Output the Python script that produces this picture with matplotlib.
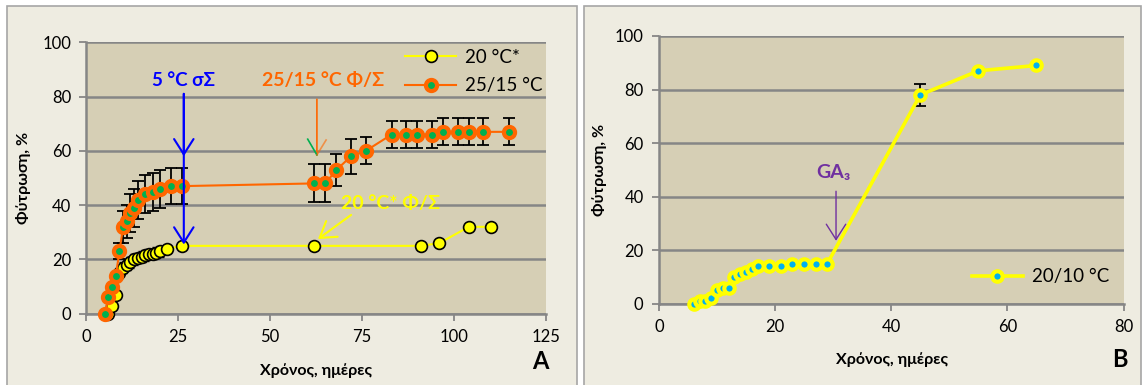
import matplotlib
matplotlib.use('Agg')
import matplotlib.pyplot as plt
from matplotlib.patches import Rectangle

plt.rcParams['font.family'] = ['Lato', 'Noto Sans', 'DejaVu Sans']

# Panel A: 20 °C*
days_20 = [6, 7, 8, 9, 10, 11, 12, 13, 14, 15, 16, 17, 18, 19, 20, 22, 26, 62, 91, 96, 104, 110]
germ_20 = [0, 3, 7, 15, 17, 18, 19, 20, 20.5, 21, 21.5, 22, 22, 22.5, 23, 24, 25, 25, 25, 26, 32, 32]
err_20 = [0, 0, 0, 2, 2, 2, 2, 2, 2, 2, 2, 2, 2, 2, 2, 0, 0, 0, 0, 0, 0, 0]

# Panel A: 25/15 °C
days_2515 = [5, 6, 7, 8, 9, 10, 11, 12, 13, 14, 16, 18, 20, 23, 26, 62, 65, 68, 72, 76,
             83, 87, 90, 94, 97, 101, 104, 108, 115]
germ_2515 = [0, 6, 10, 14, 23, 32, 34, 37, 39, 42, 44, 45, 46, 47, 47, 48, 48, 53, 58, 60,
             66, 66, 66, 66, 67, 67, 67, 67, 67]
err_2515 = [0, 0, 0, 0, 3, 6, 6, 7, 7, 7, 7, 7, 7, 6.5, 6.5, 7, 7, 6, 6.5, 5,
            5, 5, 5, 5, 5, 5, 5, 5, 5]

# Panel B: 20/10 °C
days_2010 = [6, 7, 8, 9, 10, 11, 12, 13, 14, 15, 16, 17, 19, 21, 23, 25, 27, 29, 45, 55, 65]
germ_2010 = [0, 1, 1, 2, 5, 6, 6, 10, 11, 12, 13, 14, 14, 14, 15, 15, 15, 15, 78, 87, 89]
err_2010 = [0, 0, 0, 0, 0, 0, 0, 0, 0, 0, 0, 0, 0, 0, 0, 0, 0, 0, 4, 0, 0]

PANEL_BG = '#EEECE1'
PLOT_BG = '#D6CFB5'
GRID = '#868686'
ORANGE = '#FF6600'
GREEN = '#00B050'
YELLOW = '#FFFF00'
BLUE = '#0000FF'
PURPLE = '#7030A0'


def style(ax, xmax, xstep):
    ax.set_facecolor(PLOT_BG)
    ax.set_xlim(0, xmax)
    ax.set_ylim(0, 100)
    ax.set_xticks(range(0, xmax + 1, xstep))
    ax.set_yticks(range(0, 101, 20))
    ax.grid(axis='y', color=GRID, lw=1.8)
    ax.grid(axis='x', visible=False)
    ax.set_axisbelow(True)
    for s in ['top', 'right']:
        ax.spines[s].set_visible(False)
    for s in ['left', 'bottom']:
        ax.spines[s].set_color(GRID)
        ax.spines[s].set_linewidth(1.8)
    ax.tick_params(direction='out', length=5, width=1.3, color=GRID, labelsize=12, pad=6)


def arrow(ax, start, end, color, lw=1.5, head=True):
    style_ = '->,head_length=0.55,head_width=0.35' if head else '-'
    ax.annotate('', xy=end, xytext=start,
                arrowprops=dict(arrowstyle=style_, color=color, lw=lw,
                                shrinkA=0, shrinkB=0, mutation_scale=20),
                zorder=6, annotation_clip=False)


fig = plt.figure(figsize=(11.47, 3.85), dpi=100)
fig.patches.append(Rectangle((0.006, -0.02), 0.497, 1.004, transform=fig.transFigure,
                             fc=PANEL_BG, ec='#A6A6A6', lw=1.2, zorder=-1))
fig.patches.append(Rectangle((0.509, -0.02), 0.486, 1.004, transform=fig.transFigure,
                             fc=PANEL_BG, ec='#A6A6A6', lw=1.2, zorder=-1))

# ---- A ----
axA = fig.add_axes([0.0753, 0.1852, 0.4007, 0.705])
style(axA, 125, 25)
axA.errorbar(days_2515, germ_2515, yerr=err_2515, fmt='none', ecolor='black',
             elinewidth=1.3, capsize=4.5, capthick=1.3, zorder=2, clip_on=False)
axA.errorbar(days_20, germ_20, yerr=err_20, fmt='none', ecolor='black',
             elinewidth=1.0, capsize=3, capthick=1.0, zorder=2, clip_on=False)
axA.plot(days_20, germ_20, color=YELLOW, lw=1.5, marker='o', ms=8.5, mfc=YELLOW,
         mec='black', mew=1.2, label='20 °C*', zorder=3, clip_on=False)
axA.plot(days_2515, germ_2515, color=ORANGE, lw=1.5, marker='o', ms=8, mfc=GREEN,
         mec=ORANGE, mew=3, label='25/15 °C', zorder=4, clip_on=False)

axA.legend(loc='upper left', bbox_to_anchor=(0.694, 0.975), frameon=False, fontsize=13.5,
           handlelength=2.7, handletextpad=0.5, borderpad=0, borderaxespad=0,
           labelspacing=0.6)

axA.text(26.5, 86, '5 °C σΣ', color=BLUE, fontsize=13.5, fontweight='bold', ha='center', va='center')
arrow(axA, (26.5, 81), (26.5, 25.5), BLUE)
arrow(axA, (26.5, 81), (26.5, 58), BLUE)

axA.text(64.3, 86, '25/15 °C Φ/Σ', color=ORANGE, fontsize=14, fontweight='bold', ha='center', va='center')
arrow(axA, (62.7, 79), (62.7, 58.5), ORANGE, lw=1.2, head=False)
axA.plot([60.2, 62.7], [64.3, 58.5], color=GREEN, lw=1.2, zorder=6)
axA.plot([62.7, 65.2], [58.5, 64], color=ORANGE, lw=1.2, alpha=0.6, zorder=6)

axA.text(82.6, 40.5, '20 °C* Φ/Σ', color=YELLOW, fontsize=14, fontweight='bold', ha='center', va='center')
arrow(axA, (72, 36.4), (63, 27.5), YELLOW)

axA.set_xlabel('Χρόνος, ημέρες', fontsize=11.5, fontweight='bold')
axA.xaxis.set_label_coords(0.5, -0.21)
axA.xaxis.label.set_va('center')
axA.set_ylabel('Φύτρωση, %', fontsize=11.5, fontweight='bold')
axA.yaxis.set_label_coords(-0.136, 0.5)
axA.yaxis.label.set_va('center')
fig.text(0.4714, 0.0623, 'A', fontsize=17, fontweight='bold', ha='center', va='center')

# ---- B ----
axB = fig.add_axes([0.5744, 0.2112, 0.4052, 0.6953])
style(axB, 80, 20)
axB.errorbar(days_2010, germ_2010, yerr=err_2010, fmt='none', ecolor='black',
             elinewidth=1.3, capsize=4.5, capthick=1.3, zorder=2, clip_on=False)
axB.plot(days_2010, germ_2010, color=YELLOW, lw=2.6, marker='o', ms=7.5, mfc='#00B0F0',
         mec=YELLOW, mew=3, label='20/10 °C', zorder=3, clip_on=False)
axB.legend(loc='center left', bbox_to_anchor=(0.674, 0.10), frameon=False, fontsize=13.5,
           handlelength=2.7, handletextpad=0.5, borderpad=0, borderaxespad=0)

axB.text(30, 49, 'GA₃', color=PURPLE, fontsize=14, fontweight='bold', ha='center', va='center')
arrow(axB, (30.5, 42), (30.5, 23.5), PURPLE, lw=1.0)

axB.set_xlabel('Χρόνος, ημέρες', fontsize=11.5, fontweight='bold')
axB.xaxis.set_label_coords(0.502, -0.21)
axB.xaxis.label.set_va('center')
axB.set_ylabel('Φύτρωση, %', fontsize=11.5, fontweight='bold')
axB.yaxis.set_label_coords(-0.127, 0.5)
axB.yaxis.label.set_va('center')
fig.text(0.9765, 0.065, 'B', fontsize=17, fontweight='bold', ha='center', va='center')

fig.savefig('out.png', dpi=100)
